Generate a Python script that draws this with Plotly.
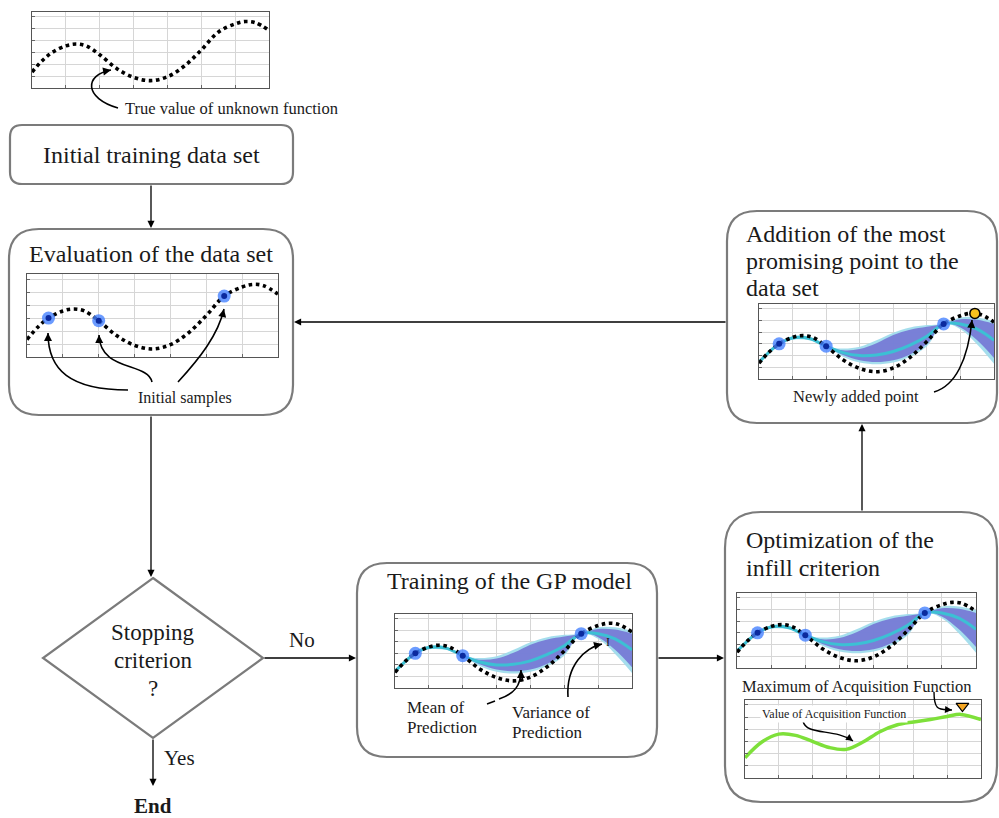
import plotly.graph_objects as go

W, H = 999, 818
OFF = 0  # body margin removed below, so page pixels == figure pixels

# ---------------- data (chart units: x 0..7, y 0..6.4) -------------
true_x = [0, 0.3, 0.6, 1.0, 1.3, 1.6, 2.0, 2.5, 3.0, 3.5, 4.0, 4.5, 5.0, 5.5, 6.0, 6.3, 6.6, 7.0]
true_y = [1.35, 2.3, 3.0, 3.55, 3.7, 3.55, 2.8, 1.65, 0.9, 0.62, 0.95, 1.85, 3.2, 4.7, 5.4, 5.6, 5.5, 4.85]

sample_x = [0.6, 2.0, 5.5]
sample_y = [3.0, 2.8, 4.7]

gp_x = [0, 0.6, 1.0, 1.5, 2.0, 2.5, 3.0, 3.5, 4.0, 4.5, 5.0, 5.5, 6.0, 6.5, 7.0]
gp_mean = [1.43, 3.0, 3.5, 3.45, 2.8, 2.25, 2.0, 2.05, 2.35, 2.9, 3.65, 4.7, 4.7, 4.25, 3.3]
gp_upper = [1.43, 3.0, 3.55, 3.5, 2.8, 2.45, 2.55, 3.05, 3.75, 4.2, 4.45, 4.7, 5.1, 5.05, 4.7]
gp_lower = [1.43, 3.0, 3.45, 3.4, 2.8, 2.05, 1.6, 1.45, 1.6, 2.1, 3.0, 4.7, 4.4, 3.3, 1.8]
gp_upper_outer = [1.55, 3.0, 3.65, 3.6, 2.8, 2.6, 2.75, 3.3, 3.95, 4.4, 4.6, 4.7, 5.25, 5.25, 4.95]
gp_lower_outer = [1.3, 3.0, 3.35, 3.3, 2.8, 1.9, 1.4, 1.25, 1.4, 1.9, 2.8, 4.7, 4.25, 2.95, 1.3]

acq_x = [0, 0.5, 1.0, 1.5, 2.0, 2.5, 3.0, 3.5, 4.0, 4.5, 5.0, 5.5, 6.0, 6.4, 7.0]
acq_y = [1.66, 2.95, 3.6, 3.5, 3.0, 2.5, 2.35, 2.95, 3.8, 4.35, 4.6, 4.8, 5.05, 5.22, 4.8]

new_point_x = [6.43]
new_point_y = [5.6]
acq_max_x = [6.45]
acq_max_y = [5.9]

# ---------------- styles ----------------
SERIF = "Liberation Serif, DejaVu Serif, serif"
BORDER = "#7b7b7b"
PURPLE = "rgba(118,122,214,0.95)"
LIGHTCYAN = "rgba(160,220,236,0.95)"
CYAN = "#3cc0d4"
GREEN = "#7ee03a"

fig = go.Figure()
layout = dict(
    width=W, height=H, margin=dict(l=0, r=0, t=0, b=0),
    paper_bgcolor="white", plot_bgcolor="rgba(0,0,0,0)", showlegend=False,
    xaxis=dict(domain=[0, 1], range=[OFF, W + OFF], visible=False, fixedrange=True),
    yaxis=dict(domain=[0, 1], range=[H + OFF, OFF], visible=False, fixedrange=True),
)
fig.add_trace(go.Scatter(x=[OFF], y=[OFF], mode="markers", marker=dict(opacity=0), hoverinfo="skip"))

# mini chart frames in page pixels: (x0, x1, y0, y1)
mini = {
    2: (32, 269, 12, 88),      # top: true function
    3: (27, 278, 274, 357),    # evaluation
    4: (759, 994, 304, 379),   # addition
    5: (395, 632, 614, 688),   # training
    6: (737, 976, 593, 668),   # optimization upper
    7: (745, 981, 700, 778),   # acquisition
}
for n, (x0, x1, y0, y1) in mini.items():
    common = dict(showgrid=True, gridcolor="#d6d6d6", gridwidth=1, zeroline=False,
                  showticklabels=False, ticks="inside", ticklen=3, tickcolor="#666",
                  showline=True, linecolor="#555", linewidth=1.3, mirror=True,
                  fixedrange=True, dtick=1, tick0=0)
    layout[f"xaxis{n}"] = dict(domain=[(x0 - OFF) / W, (x1 - OFF) / W], anchor=f"y{n}", range=[0, 7], **common)
    layout[f"yaxis{n}"] = dict(domain=[1 - (y1 - OFF) / H, 1 - (y0 - OFF) / H], anchor=f"x{n}", range=[0, 6.4], **common)


def ax(n):
    return dict(xaxis=f"x{n}", yaxis=f"y{n}")


def add_true(n):
    fig.add_trace(go.Scatter(x=true_x, y=true_y, mode="lines", line=dict(color="black", width=3.6, dash="dot", shape="spline", smoothing=1),
                             hoverinfo="skip", **ax(n)))


def add_gp(n):
    fig.add_trace(go.Scatter(x=gp_x, y=gp_lower_outer, mode="lines", line=dict(width=0, shape="spline"), hoverinfo="skip", **ax(n)))
    fig.add_trace(go.Scatter(x=gp_x, y=gp_upper_outer, mode="lines", line=dict(width=0, shape="spline"), fill="tonexty",
                             fillcolor=LIGHTCYAN, hoverinfo="skip", **ax(n)))
    fig.add_trace(go.Scatter(x=gp_x, y=gp_lower, mode="lines", line=dict(width=0, shape="spline"), hoverinfo="skip", **ax(n)))
    fig.add_trace(go.Scatter(x=gp_x, y=gp_upper, mode="lines", line=dict(width=0, shape="spline"), fill="tonexty",
                             fillcolor=PURPLE, hoverinfo="skip", **ax(n)))


def add_mean(n):
    fig.add_trace(go.Scatter(x=gp_x, y=gp_mean, mode="lines", line=dict(color=CYAN, width=3, shape="spline"), hoverinfo="skip", **ax(n)))


def add_samples(n):
    fig.add_trace(go.Scatter(x=sample_x, y=sample_y, mode="markers", marker=dict(size=13, color="rgba(70,130,255,0.8)"),
                             hoverinfo="skip", cliponaxis=False, **ax(n)))
    fig.add_trace(go.Scatter(x=sample_x, y=sample_y, mode="markers", marker=dict(size=6, color="#0b2a9e"),
                             hoverinfo="skip", cliponaxis=False, **ax(n)))


add_true(2)

add_true(3)
add_samples(3)

for n in (4, 5, 6):
    add_gp(n)
    add_mean(n)
    add_true(n)
    add_samples(n)

fig.add_trace(go.Scatter(x=new_point_x, y=new_point_y, mode="markers",
                         marker=dict(size=10, color="#f6c21f", line=dict(color="black", width=1.5)),
                         hoverinfo="skip", cliponaxis=False, **ax(4)))

fig.add_trace(go.Scatter(x=acq_x, y=acq_y, mode="lines", line=dict(color=GREEN, width=3.5, shape="spline"), hoverinfo="skip", **ax(7)))
fig.add_trace(go.Scatter(x=acq_max_x, y=acq_max_y, mode="markers",
                         marker=dict(symbol="triangle-down", size=11, color="#f5a623", line=dict(color="black", width=1.2)),
                         hoverinfo="skip", cliponaxis=False, **ax(7)))

# ---------------- shapes ----------------
shapes = []
annotations = []


def rrect(x0, y0, x1, y1, r):
    return (f"M{x0 + r},{y0} L{x1 - r},{y0} Q{x1},{y0} {x1},{y0 + r} L{x1},{y1 - r} Q{x1},{y1} {x1 - r},{y1} "
            f"L{x0 + r},{y1} Q{x0},{y1} {x0},{y1 - r} L{x0},{y0 + r} Q{x0},{y0} {x0 + r},{y0} Z")


for (x0, y0, x1, y1, r) in [(10, 125, 293, 184, 12), (9, 229, 293, 415, 30), (727, 211, 997, 423, 30),
                            (357, 563, 657, 757, 30), (725, 512, 997, 802, 36)]:
    shapes.append(dict(type="path", path=rrect(x0, y0, x1, y1, r), xref="x", yref="y",
                       line=dict(color=BORDER, width=2.2), fillcolor="white", layer="below"))

shapes.append(dict(type="path", path="M153,578 L263,658 L153,738 L43,658 Z", xref="x", yref="y",
                   line=dict(color=BORDER, width=2.2), fillcolor="white", layer="below"))


def arrow(x0, y0, x1, y1, w=1.3):
    annotations.append(dict(x=x1, y=y1, ax=x0, ay=y0, xref="x", yref="y", axref="x", ayref="y", text="",
                            showarrow=True, arrowhead=2, arrowsize=1.1, arrowwidth=w, arrowcolor="black", standoff=0))


arrow(151, 184, 151, 228)
arrow(151, 415, 151, 577)
arrow(727, 322, 294, 322)
arrow(263, 658, 356, 658)
arrow(153, 738, 153, 786)
arrow(657, 658, 724, 658)
arrow(862, 512, 862, 424)


def curve_arrow(p0, c1, c2, p1, w=1.6):
    shapes.append(dict(type="path", xref="x", yref="y", layer="above",
                       path=f"M{p0[0]},{p0[1]} C{c1[0]},{c1[1]} {c2[0]},{c2[1]} {p1[0]},{p1[1]}",
                       line=dict(color="black", width=w)))
    dx, dy = p1[0] - c2[0], p1[1] - c2[1]
    d = (dx * dx + dy * dy) ** 0.5
    tx, ty = p1[0] - 4 * dx / d, p1[1] - 4 * dy / d
    annotations.append(dict(x=p1[0], y=p1[1], ax=tx, ay=ty, xref="x", yref="y", axref="x", ayref="y", text="",
                            showarrow=True, arrowhead=2, arrowsize=1, arrowwidth=w, arrowcolor="black", standoff=0))


curve_arrow((118, 108), (84, 98), (84, 75), (111, 70))
curve_arrow((128, 390), (70, 390), (48, 370), (48, 333))
curve_arrow((152, 382), (148, 362), (100, 372), (99, 335))
curve_arrow((178, 382), (200, 358), (218, 335), (224, 309))
curve_arrow((934, 392), (955, 386), (968, 360), (972, 320))
shapes.append(dict(type="path", xref="x", yref="y", layer="above", path="M487,704 L495,701",
                   line=dict(color="black", width=1.6)))
curve_arrow((499, 699), (514, 694), (521, 686), (521, 670))
curve_arrow((568, 697), (566, 665), (585, 648), (602, 644))
curve_arrow((803, 721), (806, 736), (835, 728), (853, 741), w=1.4)
curve_arrow((934, 692), (934, 712), (940, 709), (952, 710), w=1.4)

# ---------------- text ----------------


def text(x, y, s, size, anchor="center", bold=False, bg=None):
    annotations.append(dict(x=x, y=y, xref="x", yref="y", text=f"<b>{s}</b>" if bold else s, showarrow=False,
                            xanchor=anchor, yanchor="middle", align=anchor if anchor != "center" else "center",
                            font=dict(family=SERIF, size=size, color="#1a1a1a"),
                            bgcolor=bg, borderpad=1))


text(123, 108, "True value of unknown function", 16.5, "left")
text(151, 155, "Initial training data set", 24)
text(151, 254, "Evaluation of the data set", 24)
text(185, 398, "Initial samples", 16)
text(744, 234, "Addition of the most", 24, "left")
text(744, 261, "promising point to the", 24, "left")
text(744, 288, "data set", 24, "left")
text(856, 396, "Newly added point", 16.5)
text(153, 632, "Stopping", 23)
text(153, 660, "criterion", 23)
text(153, 688, "?", 23)
text(302, 640, "No", 21)
text(179, 758, "Yes", 21)
text(153, 806, "End", 21, bold=True)
text(509, 581, "Training of the GP model", 24)
text(405, 707, "Mean of", 17, "left")
text(405, 727, "Prediction", 17, "left")
text(510, 712, "Variance of", 17, "left")
text(510, 732, "Prediction", 17, "left")
text(608, 642, "I", 12)
text(744, 540, "Optimization of the", 24, "left")
text(744, 568, "infill criterion", 24, "left")
text(857, 686, "Maximum of Acquisition Function", 16.5)
text(834, 714, "Value of Acquisition Function", 12, bg="white")

layout["shapes"] = shapes
layout["annotations"] = annotations
fig.update_layout(**layout)
fig.write_html("out.html", config={"displayModeBar": False},
               post_script="document.body.style.margin='0';document.body.style.overflow='hidden';")
